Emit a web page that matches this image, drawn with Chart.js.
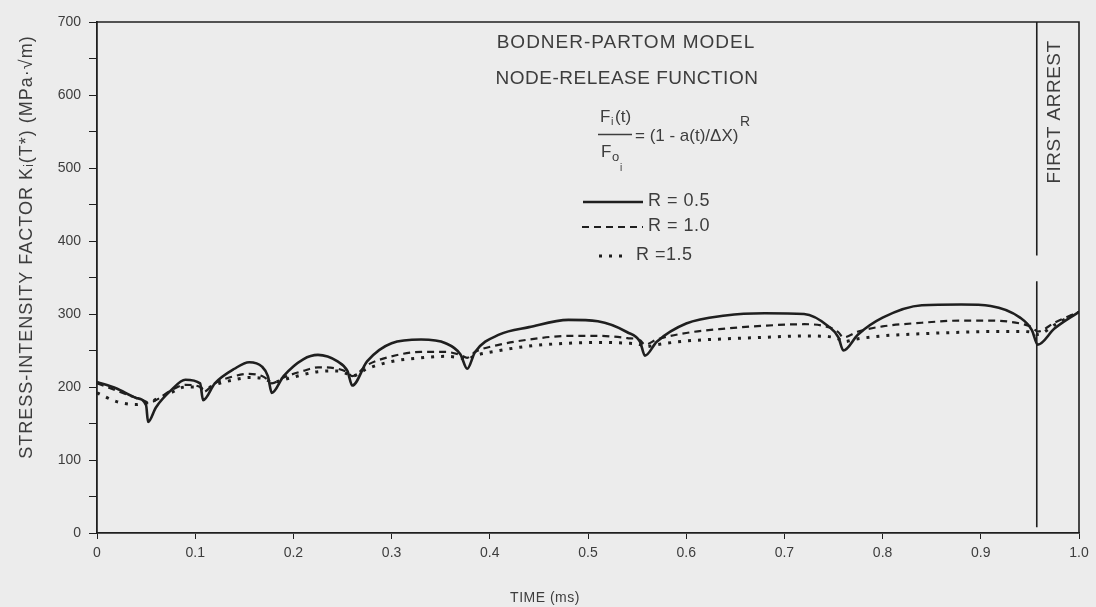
<!DOCTYPE html>
<html>
<head>
<meta charset="utf-8">
<title>Bodner-Partom model - stress-intensity factor</title>
<script src="https://cdn.jsdelivr.net/npm/chart.js@4/dist/chart.umd.min.js"></script>
<style>
  body { margin: 0; background: #ececec; }
  #wrap { width: 1096px; height: 607px; }
</style>
</head>
<body>
<div id="wrap"><canvas id="kchart" width="1096" height="607"></canvas></div>
<script>
// time points (ms) shared by the three node-release curves
const timeMs = [0, 0.02, 0.04, 0.05, 0.052, 0.06, 0.075, 0.09, 0.105, 0.108,
  0.12, 0.14, 0.155, 0.168, 0.174, 0.178, 0.19, 0.21, 0.225, 0.245,
  0.255, 0.26, 0.275, 0.30, 0.33, 0.355, 0.37, 0.377, 0.385, 0.41,
  0.44, 0.48, 0.51, 0.54, 0.553, 0.558, 0.57, 0.60, 0.64, 0.68,
  0.72, 0.745, 0.755, 0.76, 0.775, 0.80, 0.84, 0.88, 0.91, 0.94,
  0.952, 0.958, 0.975, 1.0];

// K_I(T*) in MPa*sqrt(m)
const kR05 = [207, 198, 185, 175, 152, 172, 195, 210, 205, 182,
  205, 225, 234, 228, 215, 192, 215, 238, 244, 235,
  222, 202, 235, 260, 265, 260, 245, 225, 248, 272,
  282, 292, 290, 275, 262, 243, 262, 287, 298, 301,
  300, 283, 268, 250, 272, 295, 312, 313, 311, 295,
  278, 258, 280, 303];
const kR10 = [205, 195, 185, 180, 178, 182, 195, 203, 200, 193,
  205, 215, 218, 215, 210, 205, 213, 222, 227, 225,
  220, 215, 230, 242, 248, 248, 244, 240, 248, 258,
  265, 270, 270, 267, 264, 258, 265, 274, 280, 284,
  286, 282, 275, 268, 276, 283, 288, 291, 291, 287,
  282, 276, 288, 303];
const kR15 = [192, 180, 176, 178, 177, 183, 192, 200, 200, 196,
  203, 210, 213, 212, 209, 206, 210, 217, 221, 222,
  218, 215, 225, 235, 240, 242, 240, 238, 243, 250,
  256, 260, 261, 260, 258, 255, 258, 263, 266, 268,
  270, 269, 266, 262, 266, 270, 273, 275, 276, 276,
  275, 272, 285, 303];

const seriesLabels = ['R = 0.5', 'R = 1.0', 'R =1.5'];
const timeLabels = ['0', '0.1', '0.2', '0.3', '0.4', '0.5', '0.6', '0.7', '0.8', '0.9', '1.0'];
const arrestTime = 0.957;
const arrestK = [700, 380, null, 345, 8];

const ink = '#1f1f1f';
const textGray = '#3d3d3d';
const font = '"Liberation Sans", Arial, sans-serif';

function toPoints(values) {
  return timeMs.map((t, i) => ({ x: t, y: values[i] }));
}

function spaced(ctx, text, x, y, size, spacing) {
  ctx.font = size + 'px ' + font;
  ctx.letterSpacing = spacing + 'px';
  ctx.fillText(text, x, y);
  ctx.letterSpacing = '0px';
}

// frame, axis titles, "FIRST ARREST" label and the model/legend block
const annotations = {
  id: 'annotations',
  afterDraw(chart) {
    const ctx = chart.ctx;
    const a = chart.chartArea;
    ctx.save();
    ctx.strokeStyle = ink;
    ctx.lineWidth = 1.6;
    ctx.beginPath();
    ctx.moveTo(a.left, a.top);
    ctx.lineTo(a.right, a.top);
    ctx.lineTo(a.right, a.bottom);
    ctx.stroke();

    ctx.fillStyle = textGray;
    ctx.textBaseline = 'middle';
    ctx.textAlign = 'center';

    // axis titles
    spaced(ctx, 'TIME (ms)', 545, 598, 14, 0.5);
    ctx.save();
    ctx.translate(27, 247);
    ctx.rotate(-Math.PI / 2);
    spaced(ctx, 'STRESS-INTENSITY FACTOR K\u1D62(T*) (MPa\u00B7\u221Am)', 0, 0, 18, 1);
    ctx.restore();

    // rotated arrest label
    ctx.save();
    ctx.translate(1055, 112);
    ctx.rotate(-Math.PI / 2);
    spaced(ctx, 'FIRST ARREST', 0, 0, 19, 0.5);
    ctx.restore();

    spaced(ctx, 'BODNER-PARTOM MODEL', 626, 43, 19, 1);
    spaced(ctx, 'NODE-RELEASE FUNCTION', 627, 79, 19, 0.5);

    // F_i(t) / F_oi = (1 - a(t)/ΔX)^R
    ctx.textAlign = 'left';
    spaced(ctx, 'F', 600, 117, 17, 0);
    spaced(ctx, 'i', 611, 122, 11, 0);
    spaced(ctx, '(t)', 615, 117, 17, 0);
    ctx.strokeStyle = textGray;
    ctx.lineWidth = 1.3;
    ctx.beginPath();
    ctx.moveTo(598, 134.5);
    ctx.lineTo(632, 134.5);
    ctx.stroke();
    spaced(ctx, 'F', 601, 152, 17, 0);
    spaced(ctx, 'o', 612, 157, 13, 0);
    spaced(ctx, 'i', 620, 168, 10, 0);
    spaced(ctx, '= (1 - a(t)/\u0394X)', 635, 136, 17, 0);
    spaced(ctx, 'R', 740, 122, 14, 0);

    // legend samples use the dataset styles
    const rows = [
      { x0: 583, x1: 643, y: 202, tx: 648 },
      { x0: 582, x1: 643, y: 227, tx: 648 },
      { x0: 599, x1: 629, y: 256, tx: 636 }
    ];
    rows.forEach((r, i) => {
      const ds = chart.data.datasets[i];
      ctx.strokeStyle = ds.borderColor;
      ctx.lineWidth = ds.borderWidth;
      ctx.setLineDash(ds.borderDash || []);
      ctx.beginPath();
      ctx.moveTo(r.x0, r.y);
      ctx.lineTo(r.x1, r.y);
      ctx.stroke();
      ctx.setLineDash([]);
      spaced(ctx, seriesLabels[i], r.tx, r.y - 1, 18, 0.5);
    });
    ctx.restore();
  }
};

new Chart(document.getElementById('kchart'), {
  type: 'line',
  data: {
    datasets: [
      {
        label: seriesLabels[0],
        data: toPoints(kR05),
        borderColor: ink,
        borderWidth: 2.6,
        pointRadius: 0,
        cubicInterpolationMode: 'monotone'
      },
      {
        label: seriesLabels[1],
        data: toPoints(kR10),
        borderColor: ink,
        borderWidth: 2.2,
        borderDash: [7, 5],
        pointRadius: 0,
        cubicInterpolationMode: 'monotone'
      },
      {
        label: seriesLabels[2],
        data: toPoints(kR15),
        borderColor: ink,
        borderWidth: 3,
        borderDash: [3, 7],
        pointRadius: 0,
        cubicInterpolationMode: 'monotone'
      },
      {
        label: 'First arrest',
        data: arrestK.map(k => ({ x: arrestTime, y: k })),
        borderColor: ink,
        borderWidth: 1.6,
        pointRadius: 0,
        spanGaps: false
      }
    ]
  },
  options: {
    responsive: false,
    animation: false,
    layout: { padding: { top: 22, right: 17, left: 0, bottom: 0 } },
    plugins: {
      legend: { display: false },
      tooltip: { enabled: false }
    },
    scales: {
      x: {
        type: 'linear',
        min: 0,
        max: 1,
        afterFit(scale) { scale.height = 74; },
        border: { display: true, color: ink, width: 1.8 },
        grid: { drawOnChartArea: false, drawTicks: true, tickLength: 6, color: ink },
        ticks: {
          stepSize: 0.1,
          padding: 6,
          color: textGray,
          font: { family: font, size: 14 },
          callback: (v, i) => timeLabels[i]
        }
      },
      y: {
        min: 0,
        max: 700,
        afterFit(scale) { scale.width = 97; },
        border: { display: true, color: ink, width: 1.8 },
        grid: { drawOnChartArea: false, drawTicks: true, tickLength: 8, color: ink },
        ticks: {
          stepSize: 50,
          padding: 8,
          color: textGray,
          font: { family: font, size: 14 },
          callback: v => (v % 100 === 0 ? String(v) : '')
        }
      }
    }
  },
  plugins: [annotations]
});
</script>
</body>
</html>
